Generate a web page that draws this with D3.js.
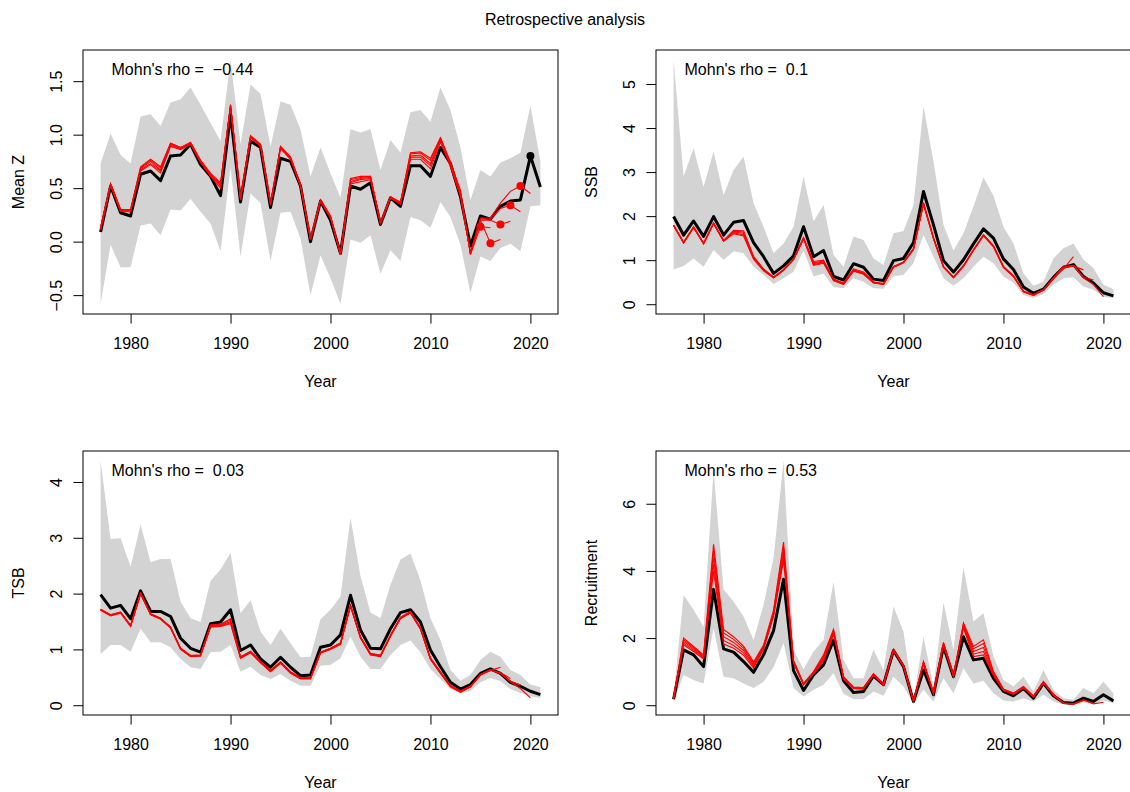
<!DOCTYPE html>
<html>
<head>
<meta charset="utf-8">
<script src="https://cdn.jsdelivr.net/npm/d3@7"></script>
<style>
   body { margin: 0; background: #fff; }
   text { font-family: "Liberation Sans", Arial, Helvetica, sans-serif; font-size: 16px; fill: #000; }
</style>
</head>
<body>
<script>
// years of the full run
years = d3.range(1977, 2022);
yearTicks = [1980, 1990, 2000, 2010, 2020];

// Mean Z
meanZ = [0.09,0.52,0.27,0.24,0.63, 0.66,0.57,0.80,0.81,0.91, 0.72,0.61,0.43,1.19,0.37, 0.94,0.88,0.32,0.78,0.75, 0.52,0.00,0.38,0.20,-0.11, 0.52,0.49,0.55,0.16,0.41, 0.33,0.71,0.71,0.61,0.88, 0.73,0.42,-0.04,0.24,0.21, 0.33,0.38,0.39,0.80,0.51];
meanZLow = [-0.58,-0.03,-0.24,-0.24,0.15, 0.17,0.06,0.30,0.29,0.40, 0.28,0.17,-0.09,0.69,-0.14, 0.45,0.36,-0.18,0.27,0.28, 0.03,-0.50,-0.13,-0.34,-0.585, 0.02,-0.01,0.06,-0.30,-0.08, -0.18,0.23,0.20,0.13,0.37, 0.23,-0.03,-0.48,-0.14,-0.18, -0.06,-0.02,-0.09,0.33,0.34];
meanZHigh = [0.73,1.01,0.81,0.73,1.17, 1.19,1.08,1.30,1.33,1.44, 1.28,1.11,0.94,1.70,0.91, 1.47,1.38,0.89,1.31,1.28, 1.05,0.61,0.88,0.64,0.41, 1.05,1.02,1.05,0.67,0.95, 0.83,1.21,1.23,1.12,1.44, 1.23,0.88,0.39,0.67,0.61, 0.74,0.78,0.83,1.27,0.75];
meanZRetro1 = [0.11,0.53,0.28,0.28,0.66, 0.72,0.64,0.89,0.86,0.91, 0.74,0.61,0.50,1.26,0.39, 0.97,0.89,0.34,0.87,0.77, 0.52,0.02,0.38,0.22,-0.11, 0.54,0.56,0.58,0.17,0.41, 0.35,0.77,0.77,0.68,0.93, 0.70,0.42,-0.10,0.22,0.22, 0.36,0.47,0.52,0.45];
meanZRetro2 = [0.11,0.53,0.29,0.29,0.67, 0.73,0.66,0.90,0.87,0.91, 0.75,0.62,0.52,1.27,0.40, 0.98,0.90,0.35,0.88,0.78, 0.52,0.02,0.38,0.23,-0.12, 0.55,0.58,0.59,0.17,0.41, 0.35,0.79,0.79,0.71,0.95, 0.72,0.44,-0.11,0.21,0.21, 0.31,0.34,0.28];
meanZRetro3 = [0.12,0.53,0.29,0.29,0.68, 0.75,0.67,0.91,0.87,0.92, 0.75,0.62,0.53,1.27,0.40, 0.98,0.90,0.35,0.88,0.78, 0.53,0.02,0.38,0.23,-0.12, 0.56,0.59,0.60,0.17,0.41, 0.36,0.80,0.81,0.73,0.96, 0.73,0.45,-0.11,0.20,0.20, 0.16,0.19];
meanZRetro4 = [0.12,0.54,0.30,0.30,0.69, 0.76,0.69,0.92,0.88,0.92, 0.76,0.63,0.54,1.28,0.41, 0.99,0.91,0.36,0.89,0.79, 0.53,0.03,0.39,0.24,-0.12, 0.58,0.60,0.61,0.18,0.42, 0.36,0.82,0.83,0.76,0.97, 0.74,0.47,-0.12,0.20,-0.015, 0.02];
meanZRetro5 = [0.13,0.54,0.30,0.30,0.70, 0.77,0.70,0.92,0.88,0.93, 0.76,0.64,0.55,1.28,0.41, 0.99,0.91,0.36,0.89,0.79, 0.53,0.03,0.39,0.24,-0.12, 0.59,0.61,0.61,0.18,0.42, 0.37,0.83,0.84,0.78,0.97, 0.74,0.48,-0.12,0.14,0.13];

// SSB
ssb = [1.99,1.57,1.89,1.54,1.99, 1.57,1.86,1.90,1.40,1.08, 0.70,0.87,1.10,1.76,1.08, 1.22,0.63,0.55,0.92,0.84, 0.57,0.54,0.99,1.04,1.40, 2.56,1.80,0.99,0.73,1.01, 1.37,1.71,1.50,1.03,0.79, 0.39,0.25,0.34,0.61,0.84, 0.90,0.63,0.48,0.26,0.19];
ssbLow = [0.79,0.87,1.04,0.85,1.23, 1.01,1.20,1.16,0.85,0.67, 0.46,0.59,0.74,1.22,0.63, 0.70,0.39,0.36,0.59,0.51, 0.36,0.35,0.63,0.67,0.93, 1.57,1.08,0.59,0.42,0.59, 0.85,1.08,0.93,0.63,0.49, 0.21,0.14,0.23,0.44,0.59, 0.61,0.40,0.33,0.17,0.14];
ssbHigh = [5.55,2.90,3.54,2.67,3.46, 2.48,3.05,3.35,2.29,1.76, 1.16,1.38,1.76,2.90,1.88, 2.25,1.12,0.85,1.54,1.46, 1.04,0.89,1.61,1.66,2.25, 4.49,3.24,1.80,1.22,1.61, 2.22,2.88,2.46,1.76,1.38, 0.70,0.42,0.51,1.04,1.27, 1.38,1.01,0.82,0.44,0.34];
ssbRetro1 = [1.80,1.41,1.76,1.39,1.85, 1.45,1.68,1.67,1.09,0.80, 0.62,0.79,1.03,1.52,0.97, 1.00,0.57,0.48,0.80,0.73, 0.51,0.47,0.86,0.96,1.27, 2.31,1.52,0.86,0.62,0.88, 1.24,1.58,1.33,0.86,0.65, 0.30,0.22,0.33,0.58,0.84, 0.88,0.60,0.45,0.17];
ssbRetro2 = [1.79,1.40,1.75,1.38,1.84, 1.44,1.66,1.64,1.07,0.79, 0.61,0.78,1.02,1.50,0.94, 0.98,0.56,0.47,0.78,0.71, 0.50,0.46,0.85,0.95,1.25, 2.29,1.50,0.85,0.61,0.87, 1.23,1.57,1.32,0.85,0.64, 0.29,0.21,0.33,0.58,0.84, 0.88,0.62,0.55];
ssbRetro3 = [1.79,1.40,1.75,1.38,1.84, 1.44,1.64,1.61,1.06,0.78, 0.61,0.78,1.02,1.50,0.92, 0.96,0.55,0.46,0.77,0.70, 0.49,0.46,0.85,0.95,1.25, 2.29,1.50,0.85,0.61,0.87, 1.23,1.57,1.32,0.85,0.64, 0.29,0.21,0.33,0.59,0.83, 0.87,0.78];
ssbRetro4 = [1.78,1.39,1.74,1.37,1.83, 1.43,1.62,1.58,1.04,0.77, 0.60,0.77,1.01,1.49,0.90, 0.94,0.54,0.45,0.76,0.69, 0.49,0.45,0.84,0.94,1.24, 2.28,1.49,0.84,0.60,0.86, 1.22,1.56,1.31,0.84,0.63, 0.28,0.20,0.32,0.60,0.80, 1.08];
ssbRetro5 = [1.78,1.39,1.74,1.37,1.83, 1.43,1.60,1.55,1.02,0.76, 0.60,0.77,1.01,1.48,0.88, 0.93,0.54,0.45,0.75,0.68, 0.48,0.45,0.84,0.94,1.24, 2.27,1.48,0.84,0.60,0.86, 1.22,1.55,1.30,0.83,0.63, 0.28,0.20,0.32,0.60,0.87];

// TSB
tsb = [1.98,1.74,1.79,1.55,2.05, 1.68,1.68,1.59,1.20,1.02, 0.95,1.46,1.49,1.71,0.98, 1.08,0.83,0.68,0.86,0.68, 0.53,0.54,1.04,1.08,1.26, 1.97,1.35,1.02,1.01,1.37, 1.66,1.71,1.49,0.99,0.69, 0.41,0.29,0.37,0.57,0.65, 0.57,0.41,0.34,0.25,0.19];
tsbLow = [0.92,1.08,1.08,0.96,1.37, 1.13,1.13,1.04,0.83,0.68, 0.65,0.95,0.96,1.08,0.60, 0.69,0.54,0.47,0.56,0.44, 0.35,0.35,0.71,0.72,0.84, 1.23,0.87,0.65,0.65,0.90, 1.08,1.16,0.95,0.65,0.47, 0.29,0.22,0.25,0.41,0.49, 0.43,0.29,0.22,0.16,0.13];
tsbHigh = [4.38,2.98,2.99,2.48,3.24, 2.56,2.62,2.62,1.86,1.56, 1.49,2.23,2.43,2.73,1.65, 1.88,1.32,1.08,1.37,1.11, 0.86,0.87,1.54,1.71,1.95, 3.36,2.31,1.66,1.56,2.16, 2.61,2.72,2.24,1.56,1.17, 0.63,0.44,0.54,0.81,0.96, 0.87,0.63,0.54,0.37,0.32];
tsbRetro1 = [1.72,1.62,1.67,1.43,2.01, 1.64,1.56,1.40,1.02,0.89, 0.90,1.44,1.45,1.55,0.87, 0.97,0.79,0.63,0.78,0.60, 0.50,0.49,0.95,1.02,1.12, 1.80,1.23,0.93,0.90,1.26, 1.58,1.68,1.39,0.85,0.60, 0.36,0.26,0.34,0.54,0.63, 0.57,0.42,0.30,0.13];
tsbRetro2 = [1.72,1.62,1.67,1.43,2.01, 1.64,1.56,1.40,1.02,0.89, 0.90,1.43,1.44,1.53,0.86, 0.96,0.78,0.62,0.77,0.59, 0.49,0.49,0.95,1.02,1.11, 1.79,1.22,0.92,0.89,1.25, 1.57,1.67,1.38,0.84,0.59, 0.35,0.25,0.34,0.54,0.63, 0.57,0.43,0.36];
tsbRetro3 = [1.71,1.61,1.66,1.42,2.00, 1.63,1.55,1.39,1.01,0.88, 0.89,1.42,1.43,1.50,0.85, 0.95,0.77,0.61,0.76,0.58, 0.48,0.48,0.94,1.01,1.10, 1.78,1.21,0.91,0.88,1.24, 1.56,1.66,1.37,0.83,0.58, 0.34,0.24,0.33,0.54,0.63, 0.58,0.48];
tsbRetro4 = [1.71,1.61,1.66,1.42,2.00, 1.63,1.55,1.39,1.01,0.88, 0.89,1.41,1.42,1.48,0.85, 0.95,0.77,0.61,0.76,0.58, 0.48,0.48,0.94,1.01,1.10, 1.78,1.21,0.91,0.88,1.24, 1.56,1.66,1.37,0.83,0.58, 0.34,0.24,0.33,0.55,0.62, 0.68];
tsbRetro5 = [1.70,1.60,1.65,1.41,1.99, 1.62,1.54,1.38,1.00,0.87, 0.88,1.40,1.41,1.46,0.84, 0.94,0.76,0.60,0.75,0.57, 0.47,0.47,0.93,1.00,1.09, 1.77,1.20,0.90,0.87,1.23, 1.55,1.65,1.36,0.82,0.57, 0.33,0.23,0.33,0.55,0.64];

// Recruitment
rec = [0.18,1.65,1.50,1.15,3.45, 1.68,1.58,1.30,0.98,1.50, 2.22,3.75,1.03,0.44,0.90, 1.20,1.94,0.73,0.38,0.41, 0.87,0.61,1.63,1.15,0.11, 1.05,0.31,1.75,0.85,2.04, 1.35,1.40,0.80,0.41,0.28, 0.50,0.21,0.65,0.28,0.08, 0.06,0.21,0.11,0.31,0.13];
recLow = [0.11,0.90,0.75,0.65,2.29, 0.85,0.80,0.65,0.51,0.70, 1.13,1.85,0.51,0.26,0.46, 0.61,0.95,0.34,0.18,0.18, 0.41,0.28,0.85,0.56,0.04, 0.46,0.11,0.80,0.36,1.10, 0.65,0.73,0.36,0.14,0.11, 0.21,0.11,0.31,0.11,0.02, 0.01,0.08,0.04,0.14,0.06];
recHigh = [0.26,3.28,2.84,2.34,7.00, 3.45,3.09,2.64,1.94,2.99, 4.38,7.28,1.65,1.07,1.60, 1.94,3.68,1.35,0.80,0.80, 1.65,1.05,2.94,2.19,0.16, 2.04,0.56,3.06,1.65,4.11, 2.49,2.74,1.45,0.75,0.56, 0.85,0.41,1.05,0.46,0.21, 0.16,0.51,0.36,0.70,0.36];
recRetro1 = [0.19,1.80,1.60,1.38,4.00, 1.82,1.70,1.49,1.10,1.66, 2.64,4.32,1.25,0.60,0.93, 1.30,2.10,0.78,0.49,0.48, 0.90,0.60,1.63,1.15,0.11, 1.22,0.33,1.78,0.85,2.30, 1.45,1.50,0.88,0.44,0.32, 0.52,0.24,0.66,0.30,0.06, 0.03,0.16,0.04,0.09];
recRetro2 = [0.20,1.85,1.64,1.41,4.20, 1.93,1.78,1.56,1.15,1.69, 2.68,4.45,1.27,0.62,0.95, 1.35,2.15,0.80,0.51,0.50, 0.91,0.61,1.64,1.16,0.11, 1.24,0.34,1.80,0.86,2.34, 1.52,1.60,0.92,0.45,0.33, 0.53,0.25,0.68,0.31,0.06, 0.03,0.15,0.06];
recRetro3 = [0.20,1.90,1.68,1.44,4.40, 2.04,1.87,1.63,1.20,1.72, 2.73,4.59,1.29,0.63,0.96, 1.40,2.20,0.81,0.52,0.51, 0.92,0.62,1.65,1.17,0.12, 1.27,0.36,1.83,0.87,2.38, 1.60,1.72,0.95,0.46,0.34, 0.54,0.26,0.69,0.32,0.06, 0.04,0.14];
recRetro4 = [0.21,1.95,1.72,1.47,4.60, 2.15,1.96,1.70,1.25,1.76, 2.78,4.72,1.31,0.64,0.98, 1.45,2.24,0.83,0.53,0.52, 0.93,0.62,1.66,1.18,0.12, 1.29,0.37,1.85,0.88,2.42, 1.68,1.84,0.98,0.47,0.35, 0.55,0.27,0.70,0.33,0.07, 0.04];
recRetro5 = [0.21,2.00,1.75,1.50,4.79, 2.26,2.04,1.76,1.29,1.79, 2.83,4.86,1.33,0.65,1.00, 1.50,2.26,0.85,0.54,0.53, 0.94,0.63,1.67,1.19,0.12, 1.30,0.38,1.87,0.90,2.45, 1.75,1.95,1.00,0.48,0.36, 0.56,0.27,0.71,0.30,0.06];

// Mohn's rho per panel
rhoValues = ['\u22120.44', '0.1', '0.03', '0.53'];

width = 1130;
height = 792;
boxW = 475; // plot region
boxH = 264;

svg = d3.select('body').append('svg')
   .attr('width', width)
   .attr('height', height);

svg.append('text')
   .attr('x', 565)
   .attr('y', 25)
   .attr('text-anchor', 'middle')
   .text('Retrospective analysis');

// one panel: grey band, black full run, red peels
function panel(left, top, label, est, low, high, retro, rho, yTicks, fmt, withPoints) {
   const g = svg.append('g').attr('transform', 'translate(' + left + ',' + top + ')');

   // R-like 4% expansion of the data range
   const xPad = (years[years.length - 1] - years[0]) * 0.04;
   const x = d3.scaleLinear()
      .domain([years[0] - xPad, years[years.length - 1] + xPad])
      .range([0, boxW]);
   const ext = d3.extent([0].concat(est, low, high, ...retro));
   const yPad = (ext[1] - ext[0]) * 0.04;
   const y = d3.scaleLinear()
      .domain([ext[0] - yPad, ext[1] + yPad])
      .range([boxH, 0]);

   const band = d3.area()
      .x((d, i) => x(years[i]))
      .y0((d, i) => y(low[i]))
      .y1((d) => y(d));
   g.append('path').datum(high)
      .attr('d', band)
      .attr('fill', '#d3d3d3');

   const line = d3.line()
      .x((d, i) => x(years[i]))
      .y((d) => y(d));

   g.append('path').datum(est)
      .attr('d', line)
      .attr('fill', 'none')
      .attr('stroke', '#000')
      .attr('stroke-width', 3)
      .attr('stroke-linejoin', 'round');

   retro.forEach((r) => {
      g.append('path').datum(r)
         .attr('d', line)
         .attr('fill', 'none')
         .attr('stroke', '#ff0000')
         .attr('stroke-width', 1.1);
   });

   // dots at the terminal estimate (next to last value)
   if (withPoints) {
      g.append('circle')
         .attr('cx', x(years[est.length - 2]))
         .attr('cy', y(est[est.length - 2]))
         .attr('r', 4)
         .attr('fill', '#000');
      retro.forEach((r) => {
         g.append('circle')
            .attr('cx', x(years[r.length - 2]))
            .attr('cy', y(r[r.length - 2]))
            .attr('r', 4)
            .attr('fill', '#ff0000');
      });
   }

   // frame
   g.append('rect')
      .attr('x', 0).attr('y', 0)
      .attr('width', boxW).attr('height', boxH)
      .attr('fill', 'none')
      .attr('stroke', '#000')
      .attr('stroke-width', 1);

   // x axis
   const xAxis = g.append('g')
      .attr('transform', 'translate(0,' + boxH + ')')
      .call(d3.axisBottom(x).tickValues(yearTicks).tickFormat(d3.format('d')).tickSize(9.6).tickSizeOuter(0));
   xAxis.select('.domain').remove();
   xAxis.selectAll('line').attr('stroke', '#000');
   xAxis.selectAll('text')
      .attr('y', 34.5).attr('dy', 0)
      .attr('font-size', null).attr('font-family', null);

   // y axis, labels parallel to the axis
   const yAxis = g.append('g')
      .call(d3.axisLeft(y).tickValues(yTicks).tickFormat(fmt).tickSize(9.6).tickSizeOuter(0));
   yAxis.select('.domain').remove();
   yAxis.selectAll('line').attr('stroke', '#000');
   yAxis.selectAll('text')
      .attr('x', 0).attr('y', 0).attr('dy', 0)
      .attr('text-anchor', 'middle')
      .attr('transform', 'translate(-21.5,0) rotate(-90)')
      .attr('font-size', null).attr('font-family', null);
   yAxis.attr('font-size', null).attr('font-family', null);
   xAxis.attr('font-size', null).attr('font-family', null);

   g.append('text')
      .attr('x', boxW / 2)
      .attr('y', boxH + 73)
      .attr('text-anchor', 'middle')
      .text('Year');

   g.append('text')
      .attr('transform', 'translate(-59,' + boxH / 2 + ') rotate(-90)')
      .attr('text-anchor', 'middle')
      .text(label);

   g.append('text')
      .attr('x', 28.5)
      .attr('y', 25)
      .style('white-space', 'pre')
      .text("Mohn's rho =  " + rho);
}

panel(83, 50, 'Mean Z', meanZ, meanZLow, meanZHigh,
   [meanZRetro1, meanZRetro2, meanZRetro3, meanZRetro4, meanZRetro5],
   rhoValues[0], [-0.5, 0, 0.5, 1, 1.5], d3.format('.1f'), true);
panel(656, 50, 'SSB', ssb, ssbLow, ssbHigh,
   [ssbRetro1, ssbRetro2, ssbRetro3, ssbRetro4, ssbRetro5],
   rhoValues[1], [0, 1, 2, 3, 4, 5], d3.format('d'), false);
panel(83, 451, 'TSB', tsb, tsbLow, tsbHigh,
   [tsbRetro1, tsbRetro2, tsbRetro3, tsbRetro4, tsbRetro5],
   rhoValues[2], [0, 1, 2, 3, 4], d3.format('d'), false);
panel(656, 451, 'Recruitment', rec, recLow, recHigh,
   [recRetro1, recRetro2, recRetro3, recRetro4, recRetro5],
   rhoValues[3], [0, 2, 4, 6], d3.format('d'), false);
</script>
</body>
</html>
